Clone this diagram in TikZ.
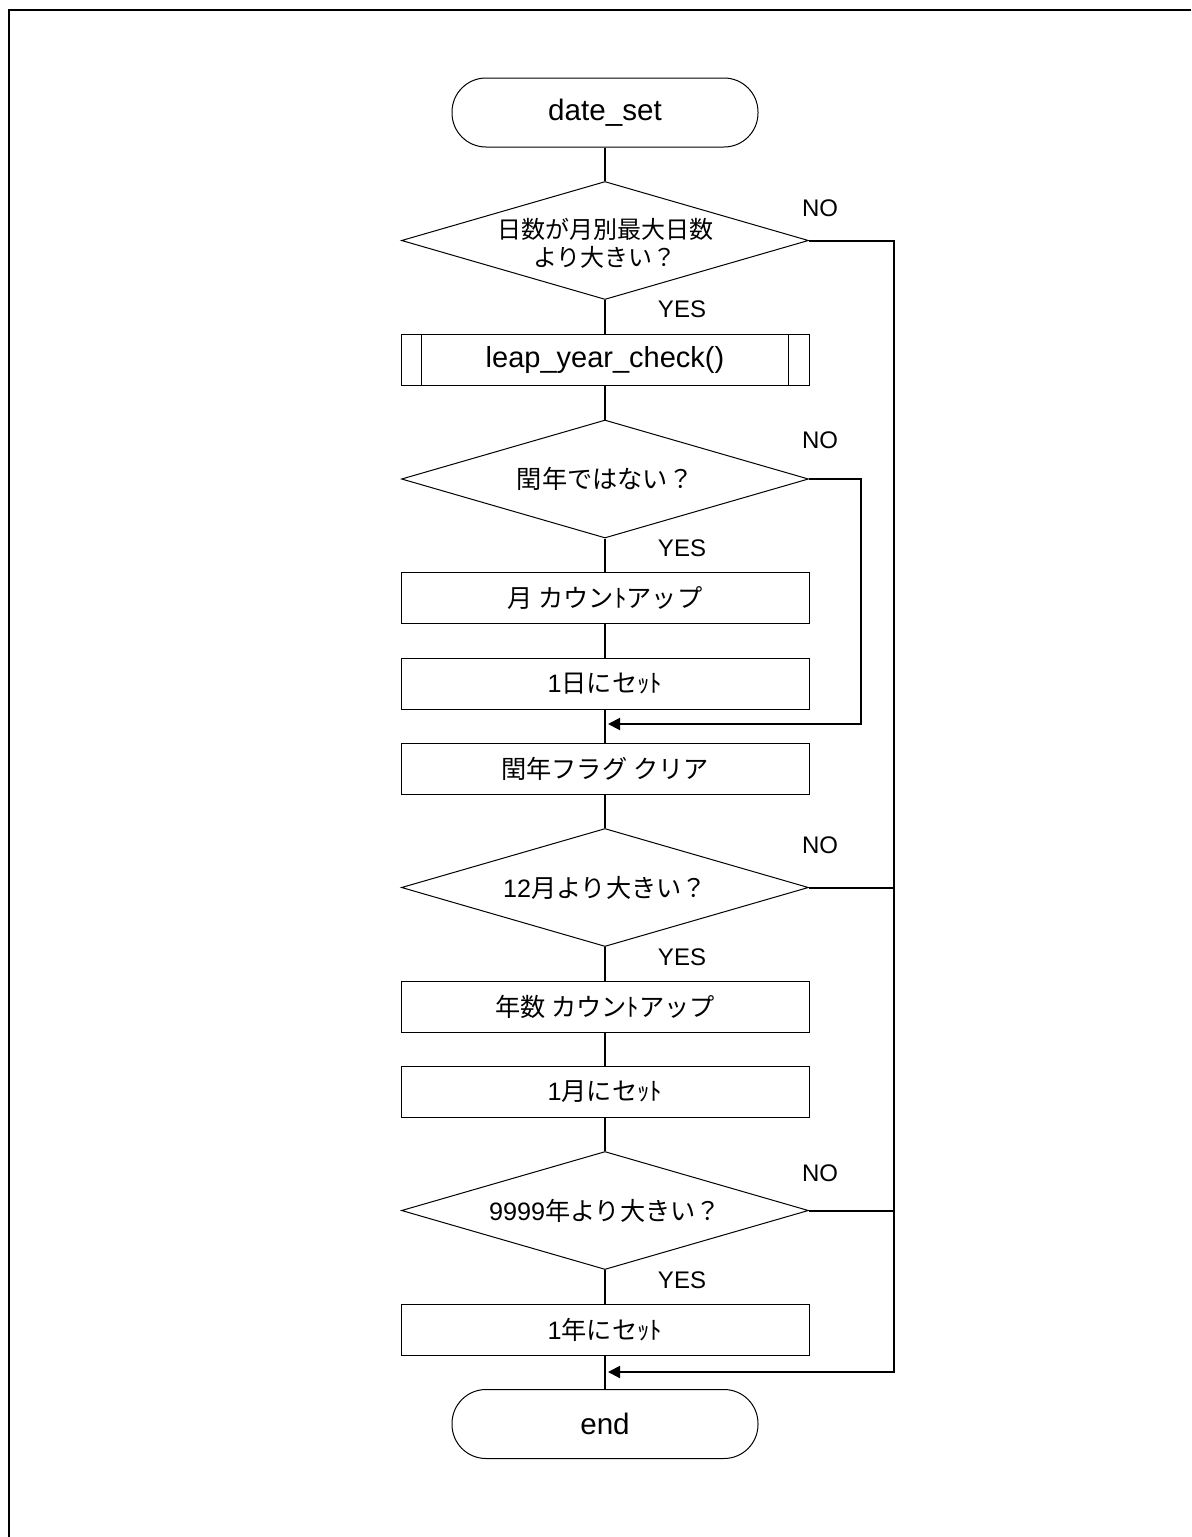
\documentclass[tikz,border=0pt]{standalone}
\usepackage{fontspec}
\setmainfont{Liberation Sans}
\newfontfamily\jp{Noto Sans CJK JP}
\usetikzlibrary{shapes.geometric,arrows.meta,calc}
\tikzset{
  term/.style={draw, line width=0.5pt, rounded corners=17pt, minimum width=153pt, minimum height=34.5pt, inner sep=0pt, font=\fontsize{14.8}{16}\selectfont},
  proc/.style={draw, line width=0.5pt, minimum width=204pt, minimum height=25.5pt, inner sep=0pt, font=\fontsize{12.6}{14}\selectfont},
  sub/.style={proc, font=\fontsize{14.5}{16}\selectfont},
  decision/.style={draw, diamond, line width=0.5pt, minimum width=203.5pt, minimum height=59pt, inner sep=0pt, font=\fontsize{12.6}{14}\selectfont},
  lbl/.style={inner sep=0pt, font=\fontsize{12}{14}\selectfont},
  conn/.style={line width=1pt},
  arr/.style={conn, -{Triangle[length=6pt,width=6pt]}}
}
\newcommand{\zw}[1]{\makebox[0pt]{#1}}
\begin{document}
\begin{tikzpicture}[x=0.5pt,y=-0.5pt]
\useasboundingbox (0,0) rectangle (1191,1537);
\draw[line width=1pt] (1191,10) -- (9,10) -- (9,1537);

\node[term] (start) at (605,112.5) {date\_set};
\node[decision, font=\fontsize{12}{14}\selectfont] (d1) at (605,240.5) {\zw{\raisebox{-3pt}[\height][\depth]{\begin{tabular}{@{}c@{}}\jp 日数が月別最大日数\\[0pt]\jp より大きい？\end{tabular}}}};
\node[sub] (leap) at (605,359.5) {leap\_year\_check()};
\draw[line width=0.5pt] ([xshift=10.5pt]leap.north west) -- ([xshift=10.5pt]leap.south west);
\draw[line width=0.5pt] ([xshift=-10.5pt]leap.north east) -- ([xshift=-10.5pt]leap.south east);
\node[decision] (d2) at (605,479) {\zw{\jp 閏年ではない？}};
\node[proc] (b1) at (605,598) {\jp 月 カウンﾄアップ};
\node[proc] (b2) at (605,683.5) {1{\jp 日にセｯﾄ}};
\node[proc] (b3) at (605,768.5) {\jp 閏年フラグ クリア};
\node[decision] (d3) at (605,887.5) {\zw{12{\jp 月より大きい？}}};
\node[proc] (b4) at (605,1007) {\jp 年数 カウンﾄアップ};
\node[proc] (b5) at (605,1092) {1{\jp 月にセｯﾄ}};
\node[decision] (d4) at (605,1210.5) {\zw{9999{\jp 年より大きい？}}};
\node[proc] (b6) at (605,1329.5) {1{\jp 年にセｯﾄ}};
\node[term] (end) at (605,1424) {end};

\node[lbl] (no1) at (820,208) {NO};
\node[lbl] (yes1) at (682,309) {YES};
\node[lbl] (no2) at (820,440) {NO};
\node[lbl] (yes2) at (682,548) {YES};
\node[lbl] (no3) at (820,845) {NO};
\node[lbl] (yes3) at (682,957) {YES};
\node[lbl] (no4) at (820,1173) {NO};
\node[lbl] (yes4) at (682,1280) {YES};

\coordinate (m1) at (605,724);
\coordinate (m2) at (605,1372);
\coordinate (r1) at (861,479);
\coordinate (r1b) at (861,724);
\coordinate (r2) at (894,240.5);
\coordinate (r2b) at (894,1372);

\draw[conn] (start) -- (d1);
\draw[conn] (d1) -- (leap);
\draw[conn] (leap) -- (d2);
\draw[conn] (d2) -- (b1);
\draw[conn] (b1) -- (b2);
\draw[conn] (b2) -- (b3);
\draw[conn] (b3) -- (d3);
\draw[conn] (d3) -- (b4);
\draw[conn] (b4) -- (b5);
\draw[conn] (b5) -- (d4);
\draw[conn] (d4) -- (b6);
\draw[conn] (b6) -- (end);

\draw[arr] (d2.east) -- (r1) -- (r1b) -- ([xshift=1.5pt]m1);
\draw[arr] (d1.east) -- (r2) -- (r2b) -- ([xshift=1.5pt]m2);
\draw[conn] (d3.east) -- (d3.east -| r2);
\draw[conn] (d4.east) -- (d4.east -| r2);
\end{tikzpicture}
\end{document}
